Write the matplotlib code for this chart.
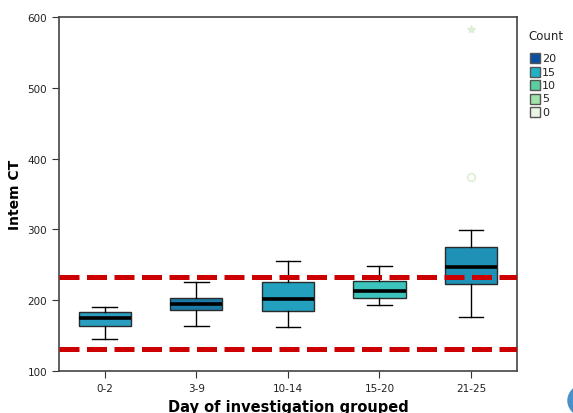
#!/usr/bin/env python3
"""Intem CT by day of investigation (box plot, SPSS style)."""
import numpy as np
import matplotlib
matplotlib.use('Agg')
import matplotlib.pyplot as plt
from matplotlib.patches import Rectangle, Circle

groups = ['0-2', '3-9', '10-14', '15-20', '21-25']
whislo = [145, 164, 162, 193, 177]
q1 = [164, 186, 185, 203, 223]
med = [175, 195, 202, 213, 247]
q3 = [183, 203, 226, 227, 275]
whishi = [190, 226, 255, 248, 299]
box_colors = ['#2a9ec0', '#1b7aa6', '#22a0bd', '#3cc3bb', '#1f90b6']

outlier_circle = [374]   # 21-25
outlier_star = [583]     # 21-25
ref_lines = [233, 131]

legend_counts = ['20', '15', '10', '5', '0']
legend_colors = ['#0a4fa0', '#22b0c5', '#5ccf9e', '#a0e3a8', '#eaf6e3']

W, H = 573, 414
fig = plt.figure(figsize=(W / 100, H / 100), dpi=100)
ax = fig.add_axes([0.103, 0.101, 0.799, 0.856])

stats = [dict(whislo=a, q1=b, med=c, q3=d, whishi=e, fliers=[])
         for a, b, c, d, e in zip(whislo, q1, med, q3, whishi)]
pos = np.arange(len(groups))
bp = ax.bxp(stats, positions=pos, widths=0.57, patch_artist=True,
            showfliers=False,
            boxprops=dict(edgecolor='#2b2b2b', linewidth=1.0),
            medianprops=dict(color='black', linewidth=2.6, solid_capstyle='butt'),
            whiskerprops=dict(color='black', linewidth=1.0),
            capprops=dict(color='black', linewidth=1.0), capwidths=0.27)
for patch, col in zip(bp['boxes'], box_colors):
    patch.set_facecolor(col)

ax.plot([pos[4]] * len(outlier_circle), outlier_circle, 'o', ms=5.5,
        mfc='none', mec='#dcefd6', mew=1.2)
ax.plot([pos[4]] * len(outlier_star), outlier_star, '*', ms=6,
        mfc='#dcefd6', mec='#dcefd6')

for y in ref_lines:
    ax.axhline(y, color='#cc0000', lw=3.6, dashes=(4.0, 1.5), zorder=5)

ax.set_xlim(-0.5, 4.5)
ax.set_ylim(100, 600)
ax.set_yticks([100, 200, 300, 400, 500, 600])
ax.set_xticks(pos)
ax.set_xticklabels(groups)
ax.tick_params(axis='both', labelsize=7.5, direction='out', length=5,
               color='#333333', labelcolor='#222222')
for s in ax.spines.values():
    s.set_color('#444444')
    s.set_linewidth(1.2)
ax.set_ylabel('Intem CT', fontsize=10, fontweight='bold', labelpad=4)
ax.set_xlabel('Day of investigation grouped', fontsize=10.5,
              fontweight='bold', labelpad=4)

# colour legend, SPSS style (drawn in figure pixels)
fig.text(528 / W, 1 - 37 / H, 'Count', fontsize=8.5, va='center', ha='left',
         color='#222222')
for i, (lab, col) in enumerate(zip(legend_counts, legend_colors)):
    yc = 59 + i * 13.5
    fig.patches.append(Rectangle((530 / W, 1 - (yc + 5) / H), 10 / W, 10 / H,
                                 transform=fig.transFigure, facecolor=col,
                                 edgecolor='#555555', linewidth=1.0))
    fig.text(542 / W, 1 - yc / H, lab, fontsize=8, va='center', ha='left',
             color='#222222')

fig.patches.append(Circle((1.04, 0.03), 0.05, transform=fig.transFigure,
                          facecolor='#4a90c8', edgecolor='none'))

fig.savefig('out.png', dpi=100)
